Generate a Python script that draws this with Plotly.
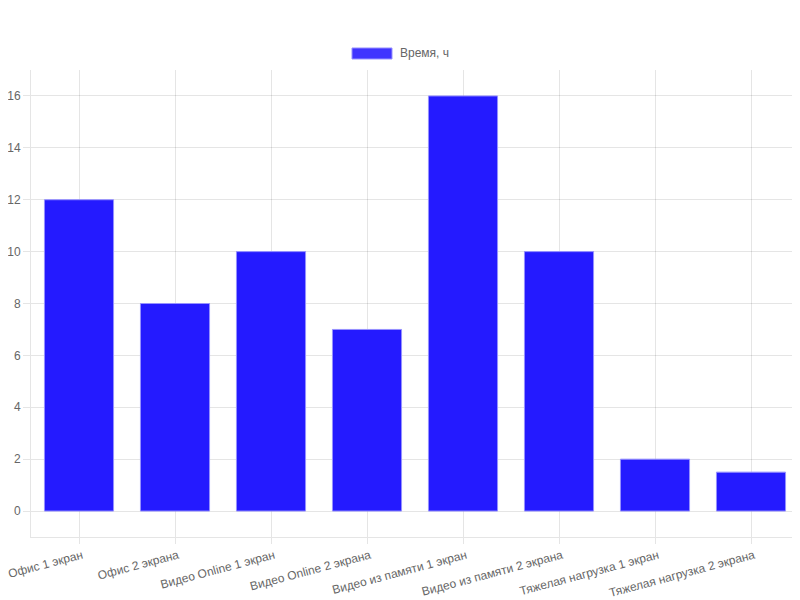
import plotly.graph_objects as go

categories = ["Офис 1 экран", "Офис 2 экрана", "Видео Online 1 экран", "Видео Online 2 экрана",
              "Видео из памяти 1 экран", "Видео из памяти 2 экрана",
              "Тяжелая нагрузка 1 экран", "Тяжелая нагрузка 2 экрана"]
hours = [12, 8, 10, 7, 16, 10, 2, 1.5]
series_name = "Время, ч"
y_ticks = [0, 2, 4, 6, 8, 10, 12, 14, 16]

grid = "rgba(0,0,0,0.1)"
font_color = "#666666"
bar_fill = "rgb(36,26,255)"
bar_line = "rgba(150,145,255,1)"

# page has an 8px body margin; plot area should sit at x 31..799, y 70..536.7 in the window
fig = go.Figure()
fig.add_trace(go.Bar(
    x=categories, y=hours, name=series_name,
    marker=dict(color=bar_fill, line=dict(color=bar_line, width=1)),
    showlegend=False,
))

PW, PH = 768, 466.7
fig.update_layout(
    width=791, height=592,
    margin=dict(l=23, r=0, t=62, b=63, pad=0),
    paper_bgcolor="white", plot_bgcolor="white",
    font=dict(family="Liberation Sans, Arial, sans-serif", size=12, color=font_color),
    bargap=0.28,
    xaxis=dict(
        automargin=False,
        showgrid=True, gridcolor=grid, gridwidth=1,
        showline=True, linecolor=grid, linewidth=1,
        ticks="outside", ticklen=6, tickcolor=grid,
        tickangle=-15, tickfont=dict(size=12, color=font_color),
        ticklabelshift=3,
        range=[-0.5, 7.5],
    ),
    yaxis=dict(
        automargin=False,
        range=[-1, 17], tickvals=y_ticks,
        showgrid=True, gridcolor=grid, gridwidth=1,
        zeroline=True, zerolinecolor=grid, zerolinewidth=1,
        showline=True, linecolor=grid, linewidth=1,
        ticks="outside", ticklen=7, tickcolor=grid,
        tickfont=dict(size=12, color=font_color),
        ticklabelstandoff=0,
    ),
    shapes=[dict(type="rect", xref="paper", yref="paper",
                 x0=(352 - 31) / PW, x1=(392 - 31) / PW,
                 y0=(536.7 - 59) / PH, y1=(536.7 - 48) / PH,
                 fillcolor="rgb(64,52,255)", line=dict(color=bar_line, width=1))],
    annotations=[dict(text=series_name, xref="paper", yref="paper",
                      x=(398 - 31) / PW, y=(536.7 - 53.5) / PH,
                      xanchor="left", yanchor="middle", showarrow=False,
                      font=dict(size=12, color=font_color))],
)

fig.write_html("out.html")
